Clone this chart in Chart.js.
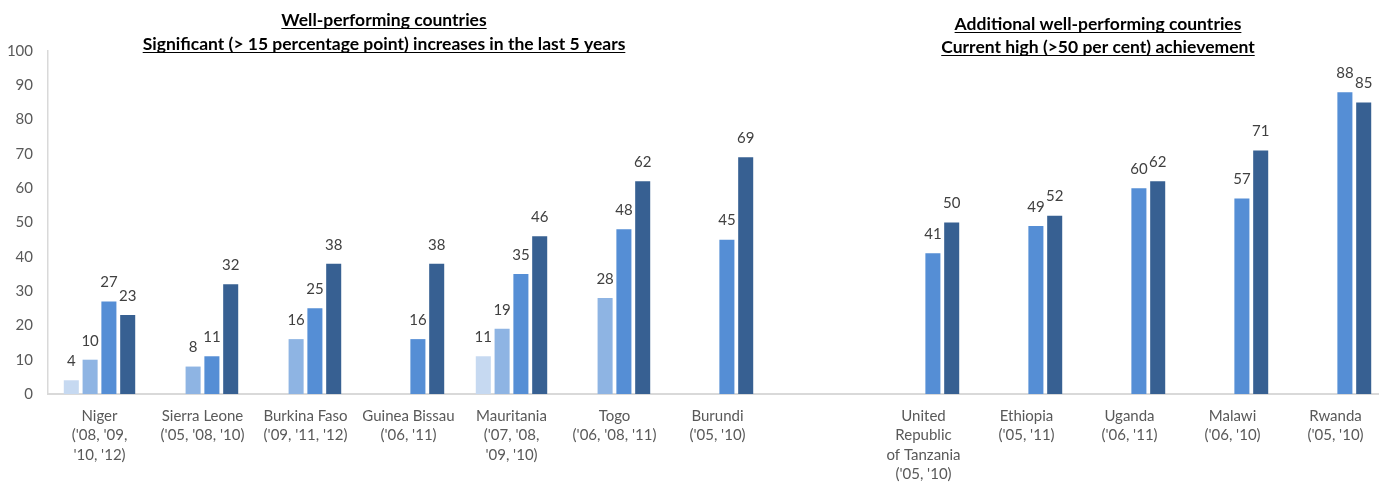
<!DOCTYPE html>
<html>
<head>
<meta charset="utf-8">
<script src="https://cdn.jsdelivr.net/npm/chart.js@4/dist/chart.umd.min.js"></script>
<style>
  html, body { margin: 0; padding: 0; background: #fff; overflow: hidden; }
  #wrap { width: 1379px; height: 483px; overflow: hidden; }
  canvas { display: block; }
</style>
</head>
<body>
<div id="wrap"><canvas id="progress_chart" width="1392" height="483"></canvas></div>
<script>
// Countries with survey years; the empty slot separates the two groups
const countries = [
	['Niger', "('08, '09,", "'10, '12)"],
	['Sierra Leone', "('05, '08, '10)"],
	['Burkina Faso', "('09, '11, '12)"],
	['Guinea Bissau', "('06, '11)"],
	['Mauritania', "('07, '08,", "'09, '10)"],
	['Togo', "('06, '08, '11)"],
	['Burundi', "('05, '10)"],
	'',
	['United', 'Republic', 'of Tanzania', "('05, '10)"],
	['Ethiopia', "('05, '11)"],
	['Uganda', "('06, '11)"],
	['Malawi', "('06, '10)"],
	['Rwanda', "('05, '10)"],
];

// Per cent achieved, one array per survey round (null = no survey)
const survey1 = [4, null, null, null, 11, null, null, null, null, null, null, null, null];
const survey2 = [10, 8, 16, null, 19, 28, null, null, null, null, null, null, null];
const survey3 = [27, 11, 25, 16, 35, 48, 45, null, 41, 49, 60, 57, 88];
const survey4 = [23, 32, 38, 38, 46, 62, 69, null, 50, 52, 62, 71, 85];

const yTicks = [0, 10, 20, 30, 40, 50, 60, 70, 80, 90, 100];

const groupTitles = [
	{ x: 384, y: [20, 44], lines: ['Well-performing countries', 'Significant (> 15 percentage point) increases in the last 5 years'] },
	{ x: 1098, y: [24, 47], lines: ['Additional well-performing countries', 'Current high (>50 per cent) achievement'] },
];

const FONT = 'Lato, "Open Sans", sans-serif';

// Underlined bold headings above each group
const titlesPlugin = {
	id: 'groupTitles',
	afterDraw(chart) {
		const ctx = chart.ctx;
		ctx.save();
		ctx.font = 'bold 17.5px ' + FONT;
		ctx.fillStyle = '#000';
		ctx.strokeStyle = '#000';
		ctx.lineWidth = 1;
		ctx.textAlign = 'center';
		ctx.textBaseline = 'middle';
		groupTitles.forEach(t => {
			t.lines.forEach((line, i) => {
				ctx.fillText(line, t.x, t.y[i]);
				const w = ctx.measureText(line).width;
				const uy = t.y[i] + 8.5;
				ctx.beginPath();
				ctx.moveTo(t.x - w / 2, uy);
				ctx.lineTo(t.x + w / 2, uy);
				ctx.stroke();
			});
		});
		ctx.restore();
	}
};

// Value above each bar
const valueLabels = {
	id: 'valueLabels',
	afterDatasetsDraw(chart) {
		const ctx = chart.ctx;
		ctx.save();
		ctx.font = '15px ' + FONT;
		ctx.fillStyle = '#404040';
		ctx.textAlign = 'center';
		ctx.textBaseline = 'middle';
		chart.data.datasets.forEach((ds, di) => {
			const meta = chart.getDatasetMeta(di);
			meta.data.forEach((bar, i) => {
				const v = ds.data[i];
				if (v === null || v === undefined) return;
				ctx.fillText(String(v), bar.x, bar.y - 19);
			});
		});
		ctx.restore();
	}
};

const colors = ['#c6d9f1', '#8eb4e3', '#558ed5', '#376092'];

const chart = new Chart(document.getElementById('progress_chart'), {
	type: 'bar',
	data: {
		labels: countries,
		datasets: [survey1, survey2, survey3, survey4].map((d, i) => ({
			label: 'Survey ' + (i + 1),
			data: d,
			backgroundColor: colors[i],
			categoryPercentage: 0.73,
			barPercentage: 0.8,
		})),
	},
	options: {
		responsive: false,
		animation: false,
		devicePixelRatio: 1,
		layout: { padding: { top: 51, right: 5, left: 0, bottom: 0 } },
		plugins: {
			legend: { display: false },
			tooltip: { enabled: false },
		},
		scales: {
			x: {
				grid: { display: false, drawTicks: false },
				border: { display: true, color: '#d9d9d9', width: 2 },
				ticks: {
					padding: 12,
					color: '#595959',
					autoSkip: false,
					maxRotation: 0,
					font: { family: FONT, size: 15, lineHeight: 1.3 },
				},
				afterFit(scale) { scale.height = 89; },
			},
			y: {
				min: 0,
				max: 100,
				grid: { display: false, drawTicks: false },
				border: { display: true, color: '#d9d9d9', width: 1.5 },
				afterBuildTicks(scale) { scale.ticks = yTicks.map(v => ({ value: v })); },
				ticks: {
					padding: 15,
					color: '#595959',
					font: { family: FONT, size: 15 },
				},
				afterFit(scale) { scale.width = 48; },
			},
		},
	},
	plugins: [valueLabels, titlesPlugin],
});
</script>
</body>
</html>
